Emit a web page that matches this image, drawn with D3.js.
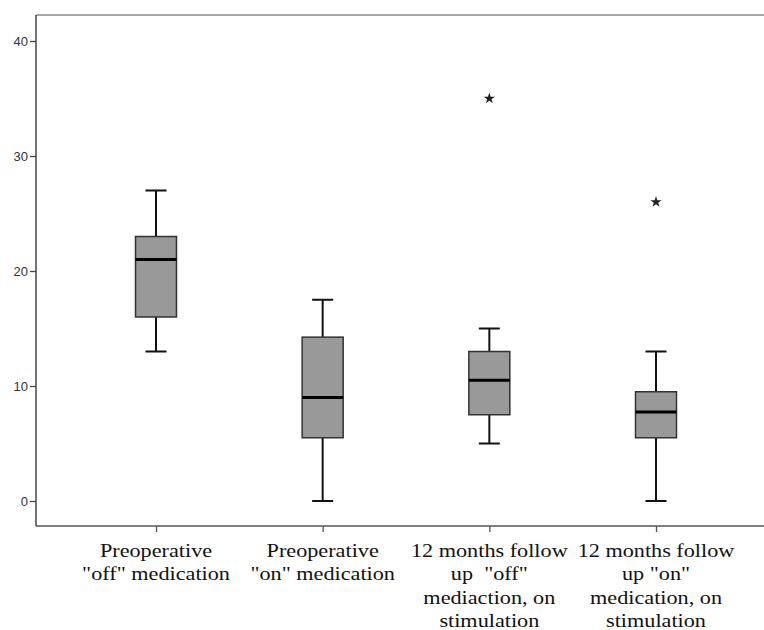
<!DOCTYPE html>
<html>
<head>
<meta charset="utf-8">
<script src="https://cdn.jsdelivr.net/npm/d3@7"></script>
<style>
  body { margin: 0; background: #fff; }
  svg { display: block; }
</style>
</head>
<body>
<div class="chart"></div>
<script>
// DATA //
var categories = [
    ['Preoperative', '"off" medication'],
    ['Preoperative', '"on" medication'],
    ['12 months follow', 'up  "off"', 'mediaction, on', 'stimulation'],
    ['12 months follow', 'up "on"', 'medication, on', 'stimulation']
];
var whiskerLow = [13, 0, 5, 0];
var q1 = [16, 5.5, 7.5, 5.5];
var medians = [21, 9, 10.5, 7.75];
var q3 = [23, 14.25, 13, 9.5];
var whiskerHigh = [27, 17.5, 15, 13];
var outliers = [[], [], [35], [26]];
var yTicks = [0, 10, 20, 30, 40];

var width = 764, height = 630;
var frame = { left: 36, top: 15, right: 800, bottom: 526 };

var svg = d3.select('.chart').append('svg')
    .attr('width', width)
    .attr('height', height);

var boxes = categories.map(function(c, i) {
    return {
        idx: i,
        lo: whiskerLow[i], q1: q1[i], med: medians[i], q3: q3[i], hi: whiskerHigh[i],
        out: outliers[i]
    };
});

var xScale = d3.scalePoint()
    .domain(d3.range(categories.length))
    .range([156, 656]);

var yScale = d3.scaleLinear()
    .domain([0, 40])
    .range([501, 41]);

var boxW = 41, capW = 21;

// frame
svg.append('line')
    .attr('x1', frame.left).attr('x2', frame.right)
    .attr('y1', frame.top).attr('y2', frame.top)
    .attr('stroke', '#888').attr('stroke-width', 1.5);
svg.append('line')
    .attr('x1', frame.left).attr('x2', frame.right)
    .attr('y1', frame.bottom).attr('y2', frame.bottom)
    .attr('stroke', '#555').attr('stroke-width', 1.5);

// y axis
var yAxis = svg.append('g')
    .attr('class', 'axis y')
    .attr('transform', 'translate(' + frame.left + ',0)')
    .call(d3.axisLeft(yScale).tickValues(yTicks).tickSize(6).tickPadding(2));
yAxis.select('.domain')
    .attr('d', 'M0,' + frame.top + 'V' + frame.bottom)
    .attr('stroke', '#444').attr('stroke-width', 1.5);
yAxis.selectAll('.tick line').attr('stroke', '#444').attr('stroke-width', 1.3);
yAxis.selectAll('.tick text')
    .attr('fill', '#333')
    .style('font-family', 'Arial, "Liberation Sans", sans-serif')
    .style('font-size', '13px');

// x axis ticks
var xAxis = svg.append('g')
    .attr('class', 'axis x')
    .attr('transform', 'translate(0,' + frame.bottom + ')')
    .call(d3.axisBottom(xScale).tickSize(6).tickFormat(''));
xAxis.select('.domain').remove();
xAxis.selectAll('.tick line').attr('stroke', '#555').attr('stroke-width', 1.3);

// category labels (serif, slightly stretched like the original export)
var labels = svg.append('g').attr('class', 'labels');
labels.selectAll('g')
    .data(categories)
    .enter().append('g')
    .attr('transform', function(d, i) { return 'translate(' + xScale(i) + ',557) scale(1.17,1)'; })
    .append('text')
    .attr('text-anchor', 'middle')
    .attr('font-family', 'Liberation Serif, Times New Roman, serif')
    .attr('font-size', 19)
    .attr('fill', '#111')
    .each(function(d) {
        var t = d3.select(this);
        d.forEach(function(line, j) {
            t.append('tspan')
                .attr('x', 0)
                .attr('y', j * 23.5)
                .style('white-space', 'pre')
                .text(line);
        });
    });

// boxes
var g = svg.append('g').attr('class', 'boxes');
var bx = g.selectAll('g.box')
    .data(boxes)
    .enter().append('g')
    .attr('class', 'box')
    .attr('transform', function(d) { return 'translate(' + xScale(d.idx) + ',0)'; });

bx.append('line')
    .attr('x1', 0).attr('x2', 0)
    .attr('y1', function(d) { return yScale(d.hi); })
    .attr('y2', function(d) { return yScale(d.q3); })
    .attr('stroke', '#111').attr('stroke-width', 2);
bx.append('line')
    .attr('x1', 0).attr('x2', 0)
    .attr('y1', function(d) { return yScale(d.q1); })
    .attr('y2', function(d) { return yScale(d.lo); })
    .attr('stroke', '#111').attr('stroke-width', 2);
bx.append('line')
    .attr('x1', -capW / 2).attr('x2', capW / 2)
    .attr('y1', function(d) { return yScale(d.hi); })
    .attr('y2', function(d) { return yScale(d.hi); })
    .attr('stroke', '#111').attr('stroke-width', 2);
bx.append('line')
    .attr('x1', -capW / 2).attr('x2', capW / 2)
    .attr('y1', function(d) { return yScale(d.lo); })
    .attr('y2', function(d) { return yScale(d.lo); })
    .attr('stroke', '#111').attr('stroke-width', 2);
bx.append('rect')
    .attr('x', -boxW / 2)
    .attr('width', boxW)
    .attr('y', function(d) { return yScale(d.q3); })
    .attr('height', function(d) { return yScale(d.q1) - yScale(d.q3); })
    .attr('fill', '#999')
    .attr('stroke', '#333').attr('stroke-width', 1.5);
bx.append('line')
    .attr('x1', -boxW / 2).attr('x2', boxW / 2)
    .attr('y1', function(d) { return yScale(d.med); })
    .attr('y2', function(d) { return yScale(d.med); })
    .attr('stroke', '#000').attr('stroke-width', 3);

// extreme values
var star = d3.symbol().type(d3.symbolStar).size(40);
bx.selectAll('path.outlier')
    .data(function(d) { return d.out; })
    .enter().append('path')
    .attr('class', 'outlier')
    .attr('transform', function(v) { return 'translate(0,' + yScale(v) + ')'; })
    .attr('d', star)
    .attr('fill', '#222');
</script>
</body>
</html>
